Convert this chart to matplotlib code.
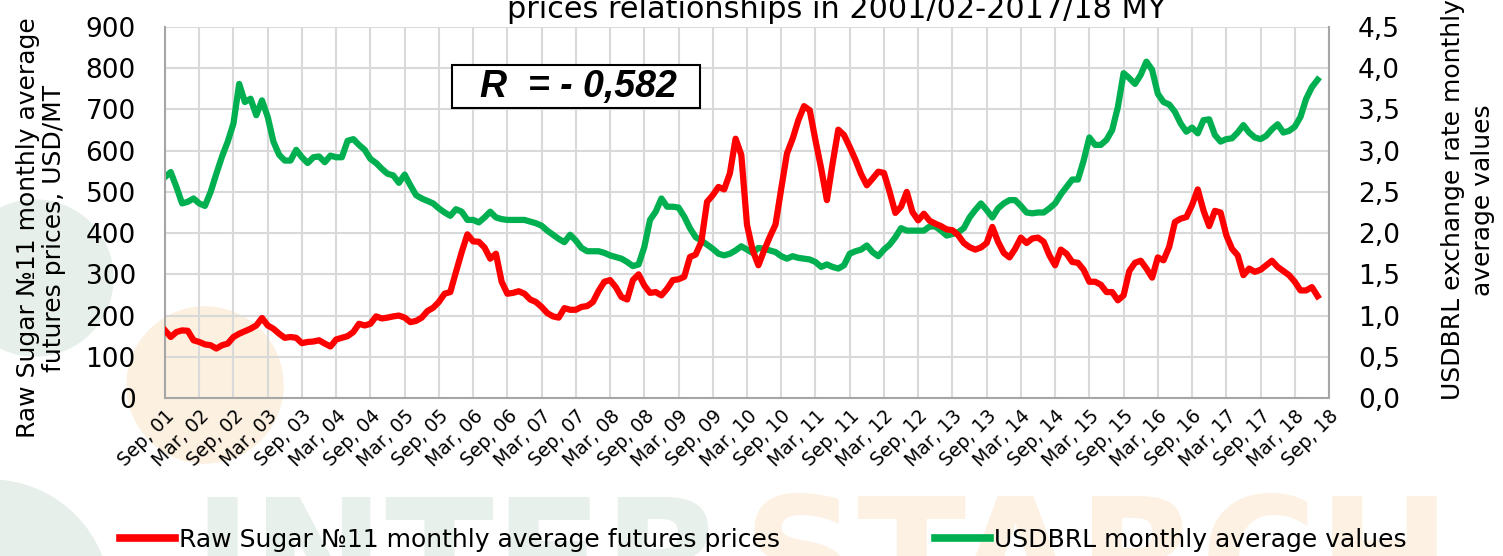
# Raw sugar No.11 futures vs USDBRL, monthly averages Sep 2001 - Jul 2018

import numpy as np
import matplotlib
matplotlib.use("Agg")
import matplotlib.pyplot as plt
from matplotlib.lines import Line2D
from matplotlib.patches import Ellipse, Rectangle

# monthly averages, USD/MT
sugar = [
    164, 148, 160, 164, 163, 140, 136, 130, 128, 120, 128, 132, 148, 156, 162, 168, 176, 194, 176, 168,
    156, 146, 148, 146, 133, 136, 137, 140, 132, 125, 142, 146, 150, 160, 180, 176, 180, 198, 193, 195,
    198, 200, 195, 184, 187, 195, 211, 219, 233, 253, 257, 306, 354, 397, 380, 379, 365, 338, 350, 282,
    253, 255, 259, 253, 239, 233, 221, 206, 198, 195, 218, 214, 214, 221, 223, 233, 260, 282, 286, 269,
    245, 239, 286, 300, 273, 255, 257, 249, 265, 286, 288, 294, 342, 348, 379, 476, 492, 512, 506, 545,
    629, 590, 420, 358, 322, 358, 391, 421, 508, 593, 629, 674, 708, 698, 625, 557, 480, 569, 651, 638,
    609, 578, 543, 516, 532, 549, 546, 500, 449, 464, 500, 451, 431, 447, 430, 423, 417, 409, 407, 395,
    376, 366, 360, 365, 376, 415, 379, 352, 341, 362, 389, 376, 387, 389, 379, 346, 322, 360, 350, 330,
    328, 311, 282, 282, 275, 257, 257, 237, 249, 308, 328, 333, 314, 292, 341, 334, 367, 427, 435, 439,
    468, 506, 455, 417, 454, 450, 395, 362, 346, 298, 314, 306, 311, 322, 333, 318, 308, 298, 282, 261,
    261, 269, 247,
]

# monthly averages, BRL per USD
usdbrl = [
    2.68, 2.74, 2.56, 2.36, 2.38, 2.42, 2.36, 2.33, 2.50, 2.72, 2.93, 3.11, 3.33, 3.81, 3.59, 3.63, 3.43, 3.61, 3.41, 3.11,
    2.95, 2.88, 2.88, 3.01, 2.92, 2.85, 2.92, 2.93, 2.86, 2.94, 2.92, 2.92, 3.12, 3.14, 3.07, 3.01, 2.90, 2.85, 2.78, 2.72,
    2.70, 2.61, 2.71, 2.58, 2.46, 2.42, 2.39, 2.36, 2.30, 2.25, 2.21, 2.29, 2.26, 2.16, 2.16, 2.13, 2.19, 2.26, 2.19, 2.17,
    2.16, 2.16, 2.16, 2.16, 2.14, 2.12, 2.09, 2.03, 1.98, 1.93, 1.89, 1.98, 1.91, 1.82, 1.78, 1.78, 1.78, 1.76, 1.73, 1.71,
    1.69, 1.65, 1.60, 1.62, 1.83, 2.16, 2.26, 2.42, 2.32, 2.32, 2.31, 2.20, 2.06, 1.95, 1.91, 1.86, 1.81, 1.75, 1.73, 1.75,
    1.79, 1.84, 1.80, 1.76, 1.82, 1.81, 1.79, 1.77, 1.72, 1.69, 1.72, 1.70, 1.69, 1.68, 1.65, 1.59, 1.62, 1.59, 1.57, 1.61,
    1.75, 1.78, 1.80, 1.85, 1.77, 1.72, 1.80, 1.86, 1.95, 2.06, 2.03, 2.03, 2.03, 2.03, 2.08, 2.08, 2.03, 1.97, 1.99, 2.01,
    2.06, 2.19, 2.28, 2.36, 2.28, 2.19, 2.30, 2.36, 2.40, 2.40, 2.33, 2.25, 2.24, 2.25, 2.25, 2.30, 2.36, 2.47, 2.56, 2.65,
    2.65, 2.88, 3.16, 3.07, 3.07, 3.13, 3.25, 3.53, 3.94, 3.88, 3.81, 3.92, 4.08, 3.98, 3.69, 3.59, 3.56, 3.47, 3.33, 3.23,
    3.28, 3.21, 3.37, 3.38, 3.19, 3.11, 3.14, 3.15, 3.22, 3.31, 3.22, 3.16, 3.14, 3.18, 3.26, 3.32, 3.22, 3.24, 3.29, 3.41,
    3.63, 3.77, 3.86,
]

tick_labels = [
    "Sep, 01", "Mar, 02", "Sep, 02", "Mar, 03", "Sep, 03", "Mar, 04", "Sep, 04", "Mar, 05", "Sep, 05",
    "Mar, 06", "Sep, 06", "Mar, 07", "Sep, 07", "Mar, 08", "Sep, 08", "Mar, 09", "Sep, 09", "Mar, 10",
    "Sep, 10", "Mar, 11", "Sep, 11", "Mar, 12", "Sep, 12", "Mar, 13", "Sep, 13", "Mar, 14", "Sep, 14",
    "Mar, 15", "Sep, 15", "Mar, 16", "Sep, 16", "Mar, 17", "Sep, 17", "Mar, 18", "Sep, 18",
]
left_ticks = [0, 100, 200, 300, 400, 500, 600, 700, 800, 900]
right_ticks = [0.0, 0.5, 1.0, 1.5, 2.0, 2.5, 3.0, 3.5, 4.0, 4.5]

W, H = 1503, 556
RED = "#FF0000"
GREEN = "#00B050"

fig = plt.figure(figsize=(W / 100, H / 100), dpi=100)

# faint logo in the background
fig.add_artist(Ellipse((35 / W, 1 - 278 / H), 156 / W, 156 / H, transform=fig.transFigure,
                       color="#E6EFEA", zorder=-2))
fig.add_artist(Ellipse((-10 / W, 1 - 600 / H), 240 / W, 240 / H, transform=fig.transFigure,
                       color="#E6EFEA", zorder=-2))
fig.add_artist(Ellipse((205 / W, 1 - 385 / H), 156 / W, 156 / H, transform=fig.transFigure,
                       color="#FCF0E0", zorder=-2))
fig.text(192 / W, 1 - 613 / H, "INTER", fontsize=115, fontweight="bold", color="#E8F0EB",
         ha="left", va="baseline", zorder=-1)
fig.text(743 / W, 1 - 613 / H, "STARCH", fontsize=115, fontweight="bold", color="#FCF1E2",
         ha="left", va="baseline", zorder=-1)

ax = fig.add_axes([165 / W, 1 - 398 / H, 1164 / W, 371 / H])
ax2 = ax.twinx()

x = np.arange(len(sugar))
ax2.plot(x, usdbrl, color=GREEN, lw=4.5, zorder=3)
ax.plot(x, sugar, color=RED, lw=4.5, zorder=3)

# red series on top, grid lives on the twin underneath
ax.set_zorder(ax2.get_zorder() + 1)
ax.patch.set_visible(False)
ax2.patch.set_visible(False)

ax.set_xlim(0, 204)
ax.set_ylim(0, 900)
ax2.set_ylim(0, 4.5)

ax.set_xticks(range(0, 205, 6))
ax.set_xticklabels(tick_labels, rotation=45, ha="right", rotation_mode="anchor", fontsize=13.5)
ax.set_yticks(left_ticks)
ax.set_yticklabels([str(v) for v in left_ticks])
ax2.set_yticks(right_ticks)
ax2.set_yticklabels([f"{v:.1f}".replace(".", ",") for v in right_ticks])

ax.tick_params(axis="x", length=0, pad=6)
ax.tick_params(axis="y", length=0, pad=21, labelsize=19)
ax2.tick_params(axis="y", length=0, pad=21, labelsize=19)

ax2.xaxis.set_visible(True)
ax2.tick_params(axis="x", length=0, labelbottom=False, labeltop=False)
ax2.grid(True, color="#D9D9D9", lw=1.5)
ax.grid(False)

for s in ax2.spines.values():
    s.set_visible(False)
ax.spines["top"].set_visible(False)
for side in ("left", "bottom", "right"):
    ax.spines[side].set_color("#A6A6A6")
    ax.spines[side].set_linewidth(1.5)

# axis titles
fig.text(41 / W, 1 - 228 / H, "Raw Sugar №11 monthly average\nfutures prices, USD/MT",
         rotation=90, ha="center", va="center", multialignment="center", fontsize=18, linespacing=1.1)
fig.text(1468 / W, 1 - 200 / H, "USDBRL exchange rate monthly\naverage values",
         rotation=90, ha="center", va="center", multialignment="center", fontsize=18, linespacing=1.3)

# second line of the title, top cut off
fig.text(837 / W, 1 - 18 / H, "prices relationships in 2001/02-2017/18 MY", ha="center", va="baseline",
         fontsize=21.8)

# correlation box
fig.add_artist(Rectangle((452 / W, 1 - 108 / H), 248 / W, 43 / H, transform=fig.transFigure,
                         facecolor="white", edgecolor="black", lw=1.5, zorder=5))
fig.text(578 / W, 1 - 87 / H, "R  = - 0,582", ha="center", va="center", fontsize=27,
         fontweight="bold", fontstyle="italic", family=["Liberation Sans", "DejaVu Sans"], zorder=6)

# legend entries placed one by one, as in the reference
leg_y = 1 - 540 / H
fig.legend([Line2D([], [], color=RED, lw=5.5)], ["Raw Sugar №11 monthly average futures prices"],
           loc="center left", bbox_to_anchor=(120 / W, leg_y), frameon=False, fontsize=18,
           handlelength=2.2, handletextpad=0.15, borderpad=0, borderaxespad=0)
fig.legend([Line2D([], [], color=GREEN, lw=5.5)], ["USDBRL monthly average values"],
           loc="center left", bbox_to_anchor=(935 / W, leg_y), frameon=False, fontsize=18,
           handlelength=2.2, handletextpad=0.15, borderpad=0, borderaxespad=0)

fig.savefig("out.png", dpi=100)
plt.close(fig)
